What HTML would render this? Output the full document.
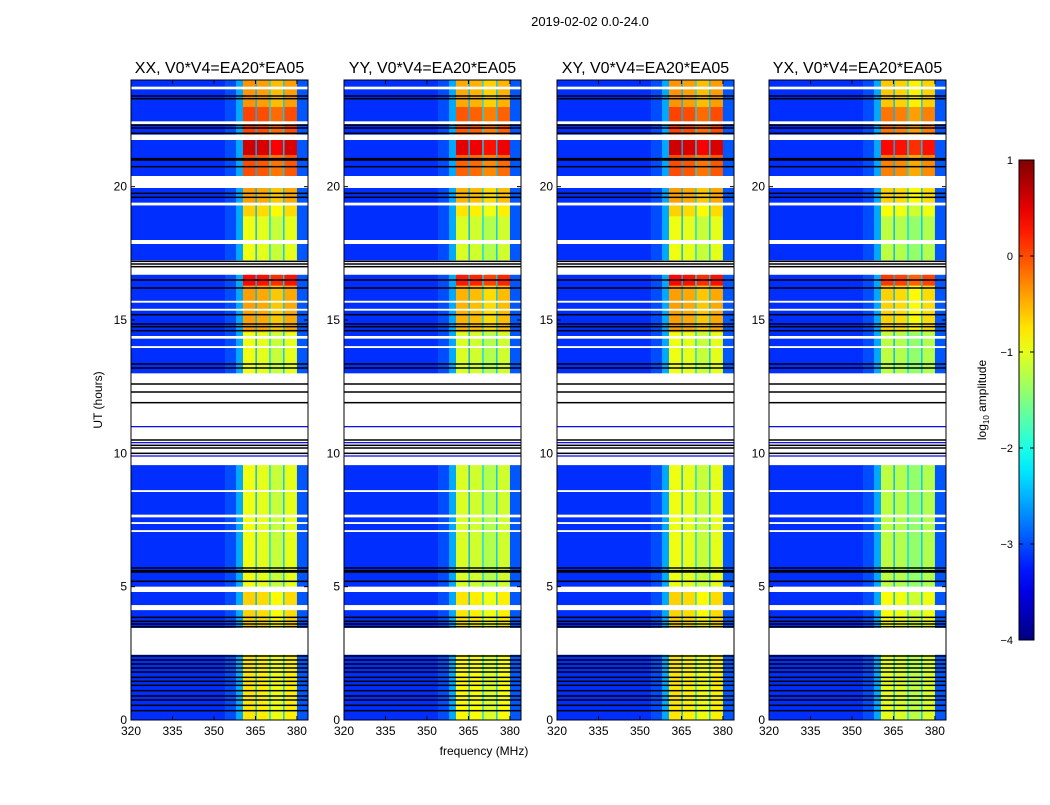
<!DOCTYPE html>
<html><head><meta charset="utf-8"><style>
html,body{margin:0;padding:0;background:#fff;}
svg text{font-family:"Liberation Sans",sans-serif;fill:#000;}
</style></head><body>
<svg id="fig" width="1050" height="800" xmlns="http://www.w3.org/2000/svg">
<rect width="1050" height="800" fill="#fff"/>
<text x="590" y="26" font-size="13" text-anchor="middle">2019-02-02 0.0-24.0</text>
<text x="484" y="755" font-size="12" text-anchor="middle">frequency (MHz)</text>
<text transform="translate(102,400) rotate(-90)" font-size="12" text-anchor="middle">UT (hours)</text>
<g id="plots"></g>
<g id="cbar"></g>
<text transform="translate(986,400) rotate(-90)" font-size="12" text-anchor="middle">log<tspan font-size="8" dy="3">10</tspan><tspan dy="-3"> amplitude</tspan></text>
</svg>
<script>
// ---- data ----
const panelTitles = ["XX, V0*V4=EA20*EA05","YY, V0*V4=EA20*EA05","XY, V0*V4=EA20*EA05","YX, V0*V4=EA20*EA05"];
const panelOffsets = [0, -0.1, 0.0, -0.25];
// data segments: [startHour, endHour, band level (log10 amp)]
const segStart = [0.0, 3.45, 5.0, 13.0, 14.55, 16.3, 17.25, 18.0, 18.9, 19.4, 20.4, 21.2, 21.95, 23.0];
const segEnd   = [2.45, 4.8, 9.56, 14.55, 16.3, 16.7, 17.85, 18.9, 19.3, 19.95, 21.2, 21.75, 23.0, 24.0];
const segLevel = [-0.8, -0.7, -1.0, -1.0, -0.45, 0.3, -1.0, -1.0, -0.7, -0.45, -0.05, 0.55, 0.0, -0.4];
// flagged (white) ranges
const whiteStart = [2.45, 4.12, 4.8, 7.05, 7.35, 7.6, 8.55, 9.56, 14.3, 13.95, 15.35, 15.65, 16.7, 17.85, 19.3, 19.95, 21.75, 22.35, 23.65];
const whiteEnd   = [3.45, 4.31, 5.0, 7.12, 7.42, 7.7, 8.62, 13.0, 14.4, 14.02, 15.42, 15.72, 16.95, 18.0, 19.4, 20.4, 21.95, 22.45, 23.75];
// black lines (hours)
const blackLines = [0.35,0.55,0.75,0.9,1.1,1.3,1.45,1.6,1.8,1.95,2.1,2.25,2.4,3.5,3.6,3.7,3.85,5.2,5.55,5.6,5.7,10.0,10.2,10.3,10.5,11.9,12.3,12.6,13.2,13.35,14.6,14.75,14.85,15.2,16.2,16.5,17.0,17.1,17.2,19.6,19.75,20.75,21.0,21.05,22.0,22.2,22.3,23.3,23.4];
// thin blue lines inside flagged region
const blueLines = [9.9, 10.4, 11.0];
// frequency channel groups
const chStart = [320, 354, 358, 360.5, 365, 365.5, 370, 370.5, 375, 375.5, 380];
const chEnd   = [354, 358, 360.5, 365, 365.5, 370, 370.5, 375, 375.5, 380, 384];
const chBand  = [0, 0, 0, 1, 0, 1, 0, 1, 0, 1, 0];
const chVal   = [-3.15, -3.0, -2.55, 0.05, -2.5, 0.0, -2.3, -0.15, -2.4, 0.0, -2.95];
const xTicks = [320, 335, 350, 365, 380];
const yTicks = [0, 5, 10, 15, 20];
const cbTicks = [1, 0, -1, -2, -3, -4];

// ---- helpers ----
function jet(v){
  let t = (v+4)/5; t = Math.max(0, Math.min(1, t));
  const f = x => Math.round(255*Math.max(0, Math.min(1, x)));
  const r = Math.min(4*t-1.5, -4*t+4.5), g = Math.min(4*t-0.5, -4*t+3.5), b = Math.min(4*t+0.5, -4*t+2.5);
  return `rgb(${f(r)},${f(g)},${f(b)})`;
}
const NS = "http://www.w3.org/2000/svg";
function mk(tag, attrs, parent){ const e = document.createElementNS(NS, tag); for (const k in attrs) e.setAttribute(k, attrs[k]); parent.appendChild(e); return e; }

const panelX = [131, 344, 557, 769];
const PW = 177, TOP = 80, BOT = 720;
const plots = document.getElementById('plots');
panelX.forEach((px, pi) => {
  const g = mk('g', {}, plots);
  
  
  const xs = f => px + (f - 320) / 64 * PW;
  const ys = h => BOT - h / 24 * (BOT - TOP);
  mk('rect', {x: px, y: TOP, width: PW, height: BOT - TOP, fill: '#fff'}, g);
  segStart.forEach((s, si) => {
    chStart.forEach((c, ci) => {
      const v = chBand[ci] ? segLevel[si] + chVal[ci] + panelOffsets[pi] : chVal[ci];
      const r = mk('rect', {x: xs(c), y: ys(segEnd[si]), width: xs(chEnd[ci]) - xs(c) + 0.3, height: ys(s) - ys(segEnd[si]) + 0.3, fill: jet(v)}, g);
      
      
    });
  });
  whiteStart.forEach((s, wi) => {
    const r = mk('rect', {x: px, y: ys(whiteEnd[wi]), width: PW, height: ys(s) - ys(whiteEnd[wi]), fill: '#fff'}, g);
    
    
  });
  blueLines.forEach(h => {
    const l = mk('rect', {x: px, y: ys(h) - 0.6, width: PW, height: 1.2, fill: '#0000ee'}, g);
    
    
  });
  blackLines.forEach(h => {
    const l = mk('rect', {x: px, y: ys(h) - 0.75, width: PW, height: 1.5, fill: '#000'}, g);
    
    
  });
  mk('rect', {x: px, y: TOP, width: PW, height: BOT - TOP, fill: 'none', stroke: '#000', 'stroke-width': 1}, g);
  const t = mk('text', {x: px + PW / 2, y: 73, 'font-size': 16, 'text-anchor': 'middle'}, g);
  t.textContent = panelTitles[pi];
  
  
  xTicks.forEach(v => {
    const x = xs(v);
    mk('line', {x1: x, x2: x, y1: BOT, y2: BOT - 4, stroke: '#000'}, g);
    mk('line', {x1: x, x2: x, y1: TOP, y2: TOP + 4, stroke: '#000'}, g);
    const tl = mk('text', {x: x, y: BOT + 15, 'font-size': 12, 'text-anchor': 'middle'}, g);
    tl.textContent = v;
    
    
  });
  yTicks.forEach(v => {
    const y = ys(v);
    mk('line', {x1: px, x2: px + 4, y1: y, y2: y, stroke: '#000'}, g);
    mk('line', {x1: px + PW, x2: px + PW - 4, y1: y, y2: y, stroke: '#000'}, g);
    const tl = mk('text', {x: px - 4, y: y + 4, 'font-size': 12, 'text-anchor': 'end'}, g);
    tl.textContent = v;
    
    
  });
});

// colorbar
const cb = document.getElementById('cbar');
const CX = 1019, CW = 15, CT = 160, CB = 640;
const defs = mk('defs', {}, cb);
const grad = mk('linearGradient', {id: 'jetg', x1: 0, y1: 1, x2: 0, y2: 0}, defs);
for (let i = 0; i <= 20; i++) { mk('stop', {offset: i / 20, 'stop-color': jet(-4 + 5 * i / 20)}, grad); }
mk('rect', {x: CX, y: CT, width: CW, height: CB - CT, fill: 'url(#jetg)', stroke: '#000', 'stroke-width': 1}, cb);
cbTicks.forEach(v => {
  const y = CB - (v + 4) / 5 * (CB - CT);
  mk('line', {x1: CX, x2: CX + 4, y1: y, y2: y, stroke: '#000'}, cb);
  mk('line', {x1: CX + CW, x2: CX + CW - 4, y1: y, y2: y, stroke: '#000'}, cb);
  const tl = mk('text', {x: 1013, y: y + 4, 'font-size': 11, 'text-anchor': 'end'}, cb);
  tl.textContent = v < 0 ? '\u2212' + (-v) : String(v);
  
  
});
</script>
</body></html>
